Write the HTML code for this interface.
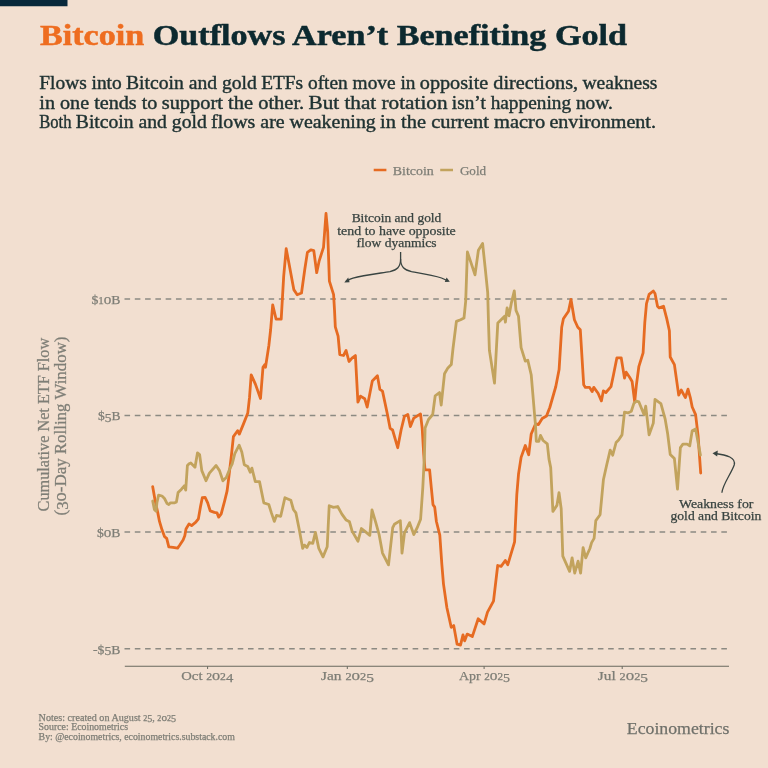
<!DOCTYPE html>
<html><head><meta charset="utf-8"><style>
html,body{margin:0;padding:0;background:#F2DFD0;width:768px;height:768px;overflow:hidden}
svg{display:block;filter:blur(0.4px);font-family:"Liberation Serif",serif}
</style></head><body>
<svg width="768" height="768" viewBox="0 0 768 768" font-family="'Liberation Serif', serif"><rect x="0" y="0" width="768" height="768" fill="#F2DFD0"/>
<rect x="0" y="0" width="67.5" height="6.25" fill="#08283A"/>
<text x="40" y="45" font-size="30" font-weight="bold" fill="#0C292F" stroke="#0C292F" stroke-width="0.5" textLength="587" lengthAdjust="spacingAndGlyphs"><tspan fill="#EE6D20" stroke="#EE6D20">Bitcoin</tspan> Outflows Aren’t Benefiting Gold</text>
<text x="39.3" y="89.2" font-size="18" fill="#1E3131" text-anchor="start" font-weight="normal" textLength="82.4" lengthAdjust="spacingAndGlyphs" stroke="#1E3131" stroke-width="0.4" >Flows into</text>
<text x="126.0" y="89.2" font-size="18" fill="#1E3131" text-anchor="start" font-weight="normal" textLength="130.9" lengthAdjust="spacingAndGlyphs" stroke="#1E3131" stroke-width="0.4" >Bitcoin and gold</text>
<text x="261.2" y="89.2" font-size="18" fill="#1E3131" text-anchor="start" font-weight="normal" textLength="154.3" lengthAdjust="spacingAndGlyphs" stroke="#1E3131" stroke-width="0.4" >ETFs often move in</text>
<text x="419.8" y="89.2" font-size="18" fill="#1E3131" text-anchor="start" font-weight="normal" textLength="158.3" lengthAdjust="spacingAndGlyphs" stroke="#1E3131" stroke-width="0.4" >opposite directions,</text>
<text x="582.4" y="89.2" font-size="18" fill="#1E3131" text-anchor="start" font-weight="normal" textLength="75.0" lengthAdjust="spacingAndGlyphs" stroke="#1E3131" stroke-width="0.4" >weakness</text>
<text x="39.3" y="108.7" font-size="18" fill="#1E3131" text-anchor="start" font-weight="normal" textLength="118.1" lengthAdjust="spacingAndGlyphs" stroke="#1E3131" stroke-width="0.4" >in one tends to</text>
<text x="161.7" y="108.7" font-size="18" fill="#1E3131" text-anchor="start" font-weight="normal" textLength="142.5" lengthAdjust="spacingAndGlyphs" stroke="#1E3131" stroke-width="0.4" >support the other.</text>
<text x="308.5" y="108.7" font-size="18" fill="#1E3131" text-anchor="start" font-weight="normal" textLength="139.0" lengthAdjust="spacingAndGlyphs" stroke="#1E3131" stroke-width="0.4" >But that rotation</text>
<text x="451.8" y="108.7" font-size="18" fill="#1E3131" text-anchor="start" font-weight="normal" textLength="161.0" lengthAdjust="spacingAndGlyphs" stroke="#1E3131" stroke-width="0.4" >isn’t happening now.</text>
<text x="39.3" y="127.9" font-size="18" fill="#1E3131" text-anchor="start" font-weight="normal" textLength="32.2" lengthAdjust="spacingAndGlyphs" stroke="#1E3131" stroke-width="0.4" >Both</text>
<text x="75.8" y="127.9" font-size="18" fill="#1E3131" text-anchor="start" font-weight="normal" textLength="131.0" lengthAdjust="spacingAndGlyphs" stroke="#1E3131" stroke-width="0.4" >Bitcoin and gold</text>
<text x="211.1" y="127.9" font-size="18" fill="#1E3131" text-anchor="start" font-weight="normal" textLength="164.7" lengthAdjust="spacingAndGlyphs" stroke="#1E3131" stroke-width="0.4" >flows are weakening</text>
<text x="380.1" y="127.9" font-size="18" fill="#1E3131" text-anchor="start" font-weight="normal" textLength="165.0" lengthAdjust="spacingAndGlyphs" stroke="#1E3131" stroke-width="0.4" >in the current macro</text>
<text x="549.4" y="127.9" font-size="18" fill="#1E3131" text-anchor="start" font-weight="normal" textLength="106.6" lengthAdjust="spacingAndGlyphs" stroke="#1E3131" stroke-width="0.4" >environment.</text>
<line x1="373.7" y1="170" x2="386.4" y2="170" stroke="#E66B22" stroke-width="2.5"/>
<text x="392.8" y="174.5" font-size="13.5" fill="#7E7E76" text-anchor="start" font-weight="normal" textLength="41" lengthAdjust="spacingAndGlyphs" stroke="#7E7E76" stroke-width="0.25" >Bitcoin</text>
<line x1="440.2" y1="170" x2="453" y2="170" stroke="#C2A35D" stroke-width="2.5"/>
<text x="459.9" y="174.5" font-size="13.5" fill="#7E7E76" text-anchor="start" font-weight="normal" textLength="26.2" lengthAdjust="spacingAndGlyphs" stroke="#7E7E76" stroke-width="0.25" >Gold</text>
<line x1="124.5" y1="299" x2="727" y2="299" stroke="#8C8A82" stroke-width="1.4" stroke-dasharray="5.6 4.69"/>
<line x1="124.5" y1="415.5" x2="727" y2="415.5" stroke="#8C8A82" stroke-width="1.4" stroke-dasharray="5.6 4.69"/>
<line x1="124.5" y1="532" x2="727" y2="532" stroke="#8C8A82" stroke-width="1.4" stroke-dasharray="5.6 4.69"/>
<line x1="124.5" y1="648.8" x2="727" y2="648.8" stroke="#8C8A82" stroke-width="1.4" stroke-dasharray="5.6 4.69"/>
<text x="120.4" y="303.75" font-size="13" fill="#7E7E76" text-anchor="end" font-weight="normal" textLength="29" lengthAdjust="spacingAndGlyphs" stroke="#7E7E76" stroke-width="0.25" ><tspan font-size="13.00" dy="-0.00">$</tspan><tspan font-size="10.40" dy="-0.00">1</tspan><tspan font-size="14.30" dy="-0.00">o</tspan><tspan font-size="13.00" dy="-0.00">B</tspan></text>
<text x="120.4" y="420.25" font-size="13" fill="#7E7E76" text-anchor="end" font-weight="normal" textLength="22.5" lengthAdjust="spacingAndGlyphs" stroke="#7E7E76" stroke-width="0.25" ><tspan font-size="13.00" dy="-0.00">$</tspan><tspan font-size="13.00" dy="1.95">5</tspan><tspan font-size="13.00" dy="-1.95">B</tspan></text>
<text x="120.4" y="536.75" font-size="13" fill="#7E7E76" text-anchor="end" font-weight="normal" textLength="23.5" lengthAdjust="spacingAndGlyphs" stroke="#7E7E76" stroke-width="0.25" ><tspan font-size="13.00" dy="-0.00">$</tspan><tspan font-size="14.30" dy="-0.00">o</tspan><tspan font-size="13.00" dy="-0.00">B</tspan></text>
<text x="120.4" y="653.5" font-size="13" fill="#7E7E76" text-anchor="end" font-weight="normal" textLength="27.4" lengthAdjust="spacingAndGlyphs" stroke="#7E7E76" stroke-width="0.25" ><tspan font-size="13.00" dy="-0.00">-</tspan><tspan font-size="13.00" dy="-0.00">$</tspan><tspan font-size="13.00" dy="1.95">5</tspan><tspan font-size="13.00" dy="-1.95">B</tspan></text>
<line x1="124.8" y1="666.3" x2="729" y2="666.3" stroke="#68685E" stroke-width="1.1"/>
<line x1="207.6" y1="666.3" x2="207.6" y2="669" stroke="#68685E" stroke-width="1"/>
<line x1="347.3" y1="666.3" x2="347.3" y2="669" stroke="#68685E" stroke-width="1"/>
<line x1="484.1" y1="666.3" x2="484.1" y2="669" stroke="#68685E" stroke-width="1"/>
<line x1="622.2" y1="666.3" x2="622.2" y2="669" stroke="#68685E" stroke-width="1"/>
<text x="207.3" y="679.7" font-size="13" fill="#7E7E76" text-anchor="middle" font-weight="normal" textLength="52" lengthAdjust="spacingAndGlyphs" stroke="#7E7E76" stroke-width="0.25" ><tspan font-size="13.00" dy="-0.00">O</tspan><tspan font-size="13.00" dy="-0.00">c</tspan><tspan font-size="13.00" dy="-0.00">t</tspan><tspan font-size="13.00" dy="-0.00"> </tspan><tspan font-size="10.40" dy="-0.00">2</tspan><tspan font-size="14.30" dy="-0.00">o</tspan><tspan font-size="10.40" dy="-0.00">2</tspan><tspan font-size="13.00" dy="1.95">4</tspan></text>
<text x="347.5" y="679.7" font-size="13" fill="#7E7E76" text-anchor="middle" font-weight="normal" textLength="53" lengthAdjust="spacingAndGlyphs" stroke="#7E7E76" stroke-width="0.25" ><tspan font-size="13.00" dy="-0.00">J</tspan><tspan font-size="13.00" dy="-0.00">a</tspan><tspan font-size="13.00" dy="-0.00">n</tspan><tspan font-size="13.00" dy="-0.00"> </tspan><tspan font-size="10.40" dy="-0.00">2</tspan><tspan font-size="14.30" dy="-0.00">o</tspan><tspan font-size="10.40" dy="-0.00">2</tspan><tspan font-size="13.00" dy="1.95">5</tspan></text>
<text x="484.5" y="679.7" font-size="13" fill="#7E7E76" text-anchor="middle" font-weight="normal" textLength="51" lengthAdjust="spacingAndGlyphs" stroke="#7E7E76" stroke-width="0.25" ><tspan font-size="13.00" dy="-0.00">A</tspan><tspan font-size="13.00" dy="-0.00">p</tspan><tspan font-size="13.00" dy="-0.00">r</tspan><tspan font-size="13.00" dy="-0.00"> </tspan><tspan font-size="10.40" dy="-0.00">2</tspan><tspan font-size="14.30" dy="-0.00">o</tspan><tspan font-size="10.40" dy="-0.00">2</tspan><tspan font-size="13.00" dy="1.95">5</tspan></text>
<text x="622.9" y="679.7" font-size="13" fill="#7E7E76" text-anchor="middle" font-weight="normal" textLength="50.2" lengthAdjust="spacingAndGlyphs" stroke="#7E7E76" stroke-width="0.25" ><tspan font-size="13.00" dy="-0.00">J</tspan><tspan font-size="13.00" dy="-0.00">u</tspan><tspan font-size="13.00" dy="-0.00">l</tspan><tspan font-size="13.00" dy="-0.00"> </tspan><tspan font-size="10.40" dy="-0.00">2</tspan><tspan font-size="14.30" dy="-0.00">o</tspan><tspan font-size="10.40" dy="-0.00">2</tspan><tspan font-size="13.00" dy="1.95">5</tspan></text>
<g transform="translate(49.1,424.6) rotate(-90)"><text x="0" y="0" font-size="16.5" fill="#7E7E76" text-anchor="middle" font-weight="normal" textLength="173.6" lengthAdjust="spacingAndGlyphs" stroke="#7E7E76" stroke-width="0.25" >Cumulative Net ETF Flow</text></g>
<g transform="translate(66,426) rotate(-90)"><text x="0" y="0" font-size="16.5" fill="#7E7E76" text-anchor="middle" font-weight="normal" textLength="179" lengthAdjust="spacingAndGlyphs" stroke="#7E7E76" stroke-width="0.25" ><tspan font-size="16.50" dy="-0.00">(</tspan><tspan font-size="16.50" dy="2.48">3</tspan><tspan font-size="18.15" dy="-2.48">o</tspan><tspan font-size="16.50" dy="-0.00">-</tspan><tspan font-size="16.50" dy="-0.00">D</tspan><tspan font-size="16.50" dy="-0.00">a</tspan><tspan font-size="16.50" dy="-0.00">y</tspan><tspan font-size="16.50" dy="-0.00"> </tspan><tspan font-size="16.50" dy="-0.00">R</tspan><tspan font-size="16.50" dy="-0.00">o</tspan><tspan font-size="16.50" dy="-0.00">l</tspan><tspan font-size="16.50" dy="-0.00">l</tspan><tspan font-size="16.50" dy="-0.00">i</tspan><tspan font-size="16.50" dy="-0.00">n</tspan><tspan font-size="16.50" dy="-0.00">g</tspan><tspan font-size="16.50" dy="-0.00"> </tspan><tspan font-size="16.50" dy="-0.00">W</tspan><tspan font-size="16.50" dy="-0.00">i</tspan><tspan font-size="16.50" dy="-0.00">n</tspan><tspan font-size="16.50" dy="-0.00">d</tspan><tspan font-size="16.50" dy="-0.00">o</tspan><tspan font-size="16.50" dy="-0.00">w</tspan><tspan font-size="16.50" dy="-0.00">)</tspan></text></g>
<polyline points="152.7,486.7 155.2,501 157.8,512.9 159.5,521.4 162,529.8 164.5,536.6 166.7,538.3 168.8,546.8 173,547.3 177.6,548.1 179.8,545 183.1,540 184.8,535.8 186,529 189,523.9 191.6,525.6 195.8,522.2 198.4,518.8 200.6,506.1 202.3,497.7 205.1,497.3 207.7,502.8 210.2,510.9 214.4,512.4 217,512.9 218.7,517.1 221.2,513.8 224.6,501.1 227.1,490.9 228.8,477.4 231.4,455.4 233.4,436.6 237.6,430.7 239.3,434.1 243.5,423.9 247.8,412.9 249.5,397.7 251.2,374.8 255.4,384.1 260.5,398.5 263,367.2 264.7,364.7 265.5,367.2 268.9,345.2 270.6,330 272.7,304.8 276.1,319.2 281.2,319.2 283.7,276.1 286.2,248.7 288.8,262.5 293.8,289.6 297.2,294.7 301.5,293 304.8,269.3 307.4,252.4 310.8,249.8 313.8,250.7 316.7,272.7 319.2,260.8 323.5,247.3 326,213.5 327.7,232.1 329.4,281.1 333.6,294.7 334.5,309.9 335.3,326.8 338.1,336.1 339.8,354.7 343.5,355.5 346.1,350.5 349,361.5 352,358.1 355.4,355.5 357.9,402.1 360.5,396.1 364.7,398.7 367.2,407.1 372.3,380.9 377.4,375.8 379.9,389.4 382.5,391.1 387.5,414.8 390.1,428.3 392.6,430 397.7,447.7 401.1,430 404.4,416.4 407.8,414.4 410.4,426.6 413.8,418.1 420.5,413.9 422.2,428.3 423.7,453.8 425,469.9 429.6,469.9 431.3,487.7 433,504.6 434.7,507.1 436.4,521.5 439.8,535.1 441.8,563.8 443.5,584.1 446.9,607.8 451.2,627.3 453.7,625.6 457.1,644.2 460.5,645.1 463,634.9 464.7,640.8 467.2,634.1 472.3,636.6 478.2,618.8 484.1,623.9 487.5,612.1 493.5,601.1 497.7,565.5 501.1,566.4 505.3,560.5 507.8,564.7 514.6,541.8 516.8,494.6 518.5,474.3 521.1,457.4 525.3,445.5 528.7,454.8 531.2,434 535.5,424 538.5,424.5 542.2,418.5 546.5,416 549.8,407.5 555.8,386.5 559.1,369.6 561.7,327.3 563.4,318.8 568.5,311.2 571,299.4 574.4,319.7 577.8,327.3 580.3,329.8 583.7,384.8 585.4,387.4 589.6,387.4 592.1,391.6 593.8,387.4 598.1,393.3 601.4,400.9 603.4,390.8 605.9,392.5 611,386.6 613.5,374.8 616.9,357.8 621.2,357.8 624.5,378.1 626.2,372.2 629.6,377.3 632.1,381.5 634.7,401.8 636.4,384.9 638.9,366.3 643.1,352.8 644.8,322.3 646.5,303.7 649.1,294.4 653.3,291 655,293.5 657.5,306.2 659.2,307.9 663.5,306.2 666.8,318.9 669.4,330.8 670.2,357 674.4,364.6 678.7,395.1 681.2,390 685.4,397.6 688,389.1 690.5,398.4 692.2,407 695.6,414.6 698.1,435.8 700.7,473" fill="none" stroke="#E66B22" stroke-width="2.8" stroke-linejoin="round" stroke-linecap="round"/>
<polyline points="152.7,501 154.4,509.5 156.1,511.2 156.9,502.8 158.6,495.1 162,496 164.5,498.5 167.1,503.6 168.8,504.5 170.5,502.8 174.7,502.8 176.4,501.9 178.1,492.6 181.5,489.2 184.3,485.8 185.7,490.1 187.4,465.5 189.1,463.8 190.8,463 195,467.2 197.5,452.8 199.6,454.5 201.8,470.6 206,480.8 209.4,473.1 216.1,465.5 219.5,470.6 222.9,480.8 226.3,477.4 229.7,468.9 232.2,463.8 234.8,453.7 239.2,445.2 241.8,452 244.3,464.7 247.7,466.4 250.2,472.3 251.9,468.1 255.3,481.6 259.5,481.6 263.8,502.8 268.8,504.5 271.4,512.9 274.3,521.4 276.5,515.4 280.7,516.3 284.9,497.7 290.8,500.2 293.4,509.5 295.9,512.9 299.3,529.8 302.7,548.4 304.4,545.1 306.9,547.6 309.4,542.5 312.8,543.4 315.4,532.4 318.8,548.4 323,556.9 327.2,546.8 329.2,505.7 333.5,507.4 337.7,506.5 341.9,514.1 346.2,520.1 349.5,521.8 352.1,531.1 358,541.2 361.4,528.5 365.6,531.9 369.8,535.3 372,509.9 375.8,522.6 379.1,534.5 382.5,553.1 388.5,564.9 392.7,527.7 394.4,524.3 400.3,520.6 401.1,532.8 402,553.1 404.5,532.8 409.6,522.6 413.8,534.5 417.2,527.7 420.6,519.2 422.8,487.7 424.5,453.8 425.1,428 428.5,419.5 432.7,414.5 435.2,395.8 439.5,392.5 441.2,405.1 444.5,373.8 447.9,367.9 451.3,364.5 453,348.5 456.4,321.4 460.6,319.7 464,318 465.7,301.1 467.4,252 470.8,262.1 475,274.8 478.4,250.3 482.6,243.5 485.1,267.2 487.7,292.6 488.5,323.1 489.4,350.2 494.5,383.1 497.8,323.1 502.1,318.8 504.6,316.3 505.4,322.2 507.1,307.8 509,315.8 511.4,302.8 514.3,290.9 516,310.4 518.5,316.3 521.1,347.6 525.3,361.1 527.8,360.3 531.2,374.7 534.6,415 535.5,425.2 536.3,441.3 538.8,441.3 540.5,435.4 543.1,440.5 547.3,443.8 549,459.1 550.7,467.5 552.9,511.4 556.9,505.4 559,492.7 561.2,508.8 562.8,556.1 569.6,571.4 572.1,557.8 574.7,573.1 578.1,561.2 580.6,573.1 583.1,547.7 585.7,557.8 589.9,548.5 591.6,542.6 594.1,538.4 595.8,520.6 600.1,514.7 601.8,496.9 603.4,479.8 606.8,464.5 610.2,450.1 612.7,455.2 616.1,442.5 618.6,440 622,434.9 624.5,412.1 627.9,412.9 631.3,411.2 633.8,403.6 636.4,401.1 638.9,401.9 644,414.6 645.7,406.2 649.1,434.9 653.3,423.1 655,399.4 658.4,401.9 660.9,403.6 665.1,418.8 667.7,434.1 670.2,454.4 674.4,458.6 677.5,489.1 680.4,447.6 682.9,444.2 687.1,444.2 689.7,445.9 692.2,430.7 695.6,429 698.1,442.5 700.4,455" fill="none" stroke="#C2A35D" stroke-width="2.8" stroke-linejoin="round" stroke-linecap="round"/>
<text x="396.5" y="222.2" font-size="12.5" fill="#394441" text-anchor="middle" font-weight="normal" textLength="89.7" lengthAdjust="spacingAndGlyphs" stroke="#394441" stroke-width="0.25" >Bitcoin and gold</text>
<text x="396.5" y="235" font-size="12.5" fill="#394441" text-anchor="middle" font-weight="normal" textLength="118.5" lengthAdjust="spacingAndGlyphs" stroke="#394441" stroke-width="0.25" >tend to have opposite</text>
<text x="396.5" y="247" font-size="12.5" fill="#394441" text-anchor="middle" font-weight="normal" textLength="80.2" lengthAdjust="spacingAndGlyphs" stroke="#394441" stroke-width="0.25" >flow dyanmics</text>
<path d="M400.6,252 L400.6,259 C400.6,267 397,270 390,271.6 C379,273.4 363,275.3 353,278.2 C350,279.2 348,280.3 346,281.3" fill="none" stroke="#394441" stroke-width="1.3"/>
<path d="M400.6,259 C400.6,267 404.5,270 411.5,271.6 C422,273.4 434,275.3 441.5,278 C444,279 446,280 447.8,280.9" fill="none" stroke="#394441" stroke-width="1.3"/>
<path d="M344.3,282.4 L348.2,277.6 L349.6,282.2 Z" fill="#394441"/>
<path d="M449.8,281.8 L444.8,282.0 L446.6,277.4 Z" fill="#394441"/>
<text x="716.2" y="507.5" font-size="12.5" fill="#394441" text-anchor="middle" font-weight="normal" textLength="74.5" lengthAdjust="spacingAndGlyphs" stroke="#394441" stroke-width="0.25" >Weakness for</text>
<text x="715.9" y="520.2" font-size="12.5" fill="#394441" text-anchor="middle" font-weight="normal" textLength="90.8" lengthAdjust="spacingAndGlyphs" stroke="#394441" stroke-width="0.25" >gold and Bitcoin</text>
<path d="M721.9,492.7 C722.8,484 731,474 734.2,465 C736,457.5 727,455 715,453.5" fill="none" stroke="#394441" stroke-width="1.3"/>
<path d="M712.5,453.3 L717.8,450.6 L717.2,456.4 Z" fill="#394441"/>
<text x="38.6" y="720.8" font-size="9.8" fill="#7E7E76" text-anchor="start" font-weight="normal" textLength="137.5" lengthAdjust="spacingAndGlyphs" stroke="#7E7E76" stroke-width="0.25" ><tspan font-size="9.80" dy="-0.00">N</tspan><tspan font-size="9.80" dy="-0.00">o</tspan><tspan font-size="9.80" dy="-0.00">t</tspan><tspan font-size="9.80" dy="-0.00">e</tspan><tspan font-size="9.80" dy="-0.00">s</tspan><tspan font-size="9.80" dy="-0.00">:</tspan><tspan font-size="9.80" dy="-0.00"> </tspan><tspan font-size="9.80" dy="-0.00">c</tspan><tspan font-size="9.80" dy="-0.00">r</tspan><tspan font-size="9.80" dy="-0.00">e</tspan><tspan font-size="9.80" dy="-0.00">a</tspan><tspan font-size="9.80" dy="-0.00">t</tspan><tspan font-size="9.80" dy="-0.00">e</tspan><tspan font-size="9.80" dy="-0.00">d</tspan><tspan font-size="9.80" dy="-0.00"> </tspan><tspan font-size="9.80" dy="-0.00">o</tspan><tspan font-size="9.80" dy="-0.00">n</tspan><tspan font-size="9.80" dy="-0.00"> </tspan><tspan font-size="9.80" dy="-0.00">A</tspan><tspan font-size="9.80" dy="-0.00">u</tspan><tspan font-size="9.80" dy="-0.00">g</tspan><tspan font-size="9.80" dy="-0.00">u</tspan><tspan font-size="9.80" dy="-0.00">s</tspan><tspan font-size="9.80" dy="-0.00">t</tspan><tspan font-size="9.80" dy="-0.00"> </tspan><tspan font-size="7.84" dy="-0.00">2</tspan><tspan font-size="9.80" dy="1.47">5</tspan><tspan font-size="9.80" dy="-1.47">,</tspan><tspan font-size="9.80" dy="-0.00"> </tspan><tspan font-size="7.84" dy="-0.00">2</tspan><tspan font-size="10.78" dy="-0.00">o</tspan><tspan font-size="7.84" dy="-0.00">2</tspan><tspan font-size="9.80" dy="1.47">5</tspan></text>
<text x="38.6" y="730.2" font-size="9.8" fill="#7E7E76" text-anchor="start" font-weight="normal" textLength="89.4" lengthAdjust="spacingAndGlyphs" stroke="#7E7E76" stroke-width="0.25" >Source: Ecoinometrics</text>
<text x="38.6" y="740" font-size="9.8" fill="#7E7E76" text-anchor="start" font-weight="normal" textLength="196.3" lengthAdjust="spacingAndGlyphs" stroke="#7E7E76" stroke-width="0.25" >By: @ecoinometrics, ecoinometrics.substack.com</text>
<text x="729.4" y="733.8" font-size="17.5" fill="#6F706A" text-anchor="end" font-weight="normal" textLength="102.6" lengthAdjust="spacingAndGlyphs" stroke="#6F706A" stroke-width="0.25" >Ecoinometrics</text></svg>
</body></html>
